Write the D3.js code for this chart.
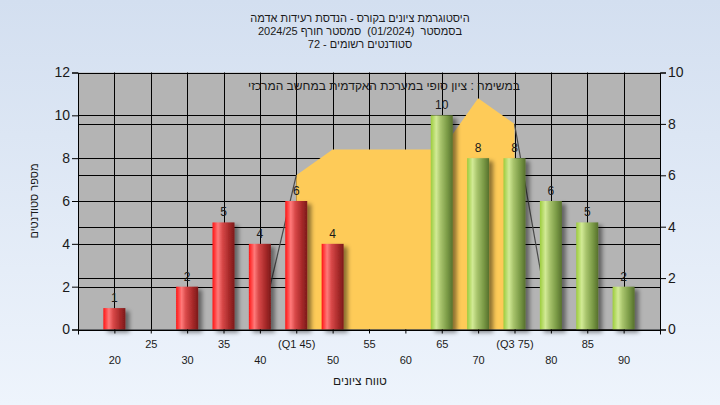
<!DOCTYPE html>
<html><head><meta charset="utf-8">
<script src="https://cdn.jsdelivr.net/npm/d3@7"></script>
<style>
html,body{margin:0;padding:0;}
body{width:720px;height:405px;overflow:hidden;}
text{font-family:"Liberation Sans",Arial,"DejaVu Sans",sans-serif;fill:#1a1a1a;white-space:pre;}
</style></head><body>
<svg id="chart" width="720" height="405"></svg>
<script>
// ---- data ----
const categories = [20,25,30,35,40,45,50,55,60,65,70,75,80,85,90];
const counts     = [1,0,2,5,4,6,4,0,0,10,8,8,6,5,2];
const tickLabels = ["20","25","30","35","40","(Q1 45)","50","55","60","65","70","(Q3 75)","80","85","90"];
const passFrom   = 60;               // bars from this grade are green
const curveCats  = [40,45,50,55,60,65,70,75,80,85,90];
const curveVals  = [0,6,7,7,7,7,9,8,0,0,0];
const q1 = 45, q3 = 75;
const leftTicks  = [0,2,4,6,8,10,12];
const rightTicks = [0,2,4,6,8,10];
const titleLines = ["היסטוגרמת ציונים בקורס - הנדסת רעידות אדמה",
                    "בסמסטר  (01/2024)  סמסטר חורף 2024/25",
                    "סטודנטים רשומים - 72"];
const subTitle = "במשימה : ציון סופי במערכת האקדמית במחשב המרכזי";
const xTitle = "טווח ציונים";
const yTitle = "מספר סטודנטים";

// ---- layout ----
const L = 78, R = 660, T = 72.5, B = 329.5;
const svg = d3.select("#chart");
const defs = svg.append("defs");

const bg = defs.append("linearGradient").attr("id","bg").attr("x1",0).attr("y1",0).attr("x2",0).attr("y2",1);
bg.append("stop").attr("offset","0%").attr("stop-color","#d3dff0");
bg.append("stop").attr("offset","100%").attr("stop-color","#eef4fc");

function barGrad(id, stops){
  const g = defs.append("linearGradient").attr("id",id).attr("x1",0).attr("y1",0).attr("x2",1).attr("y2",0);
  stops.forEach(s=>g.append("stop").attr("offset",s[0]).attr("stop-color",s[1]));
}
barGrad("gRed",[["0%","#ff1414"],["25%","#ff7a7a"],["45%","#d84848"],["75%","#a82a2a"],["100%","#7c1a1a"]]);
barGrad("gGreen",[["0%","#9ccc3c"],["25%","#d2ea96"],["45%","#a8c46c"],["75%","#7a9a46"],["100%","#56702c"]]);

const sh = defs.append("filter").attr("id","shadow").attr("x","-30%").attr("y","-10%").attr("width","180%").attr("height","130%");
sh.append("feDropShadow").attr("dx",4).attr("dy",3).attr("stdDeviation",2)
  .attr("flood-color","#000").attr("flood-opacity",0.45);

svg.append("rect").attr("width",720).attr("height",405).attr("fill","url(#bg)");

const x  = d3.scaleLinear().domain([15,95]).range([L,R]);
const yL = d3.scaleLinear().domain([0,12]).range([B,T]);
const yR = d3.scaleLinear().domain([0,10]).range([B,T]);

// plot background
svg.append("rect").attr("x",L).attr("y",T).attr("width",R-L).attr("height",B-T).attr("fill","#b4b4b4");

// gridlines
const grid = svg.append("g").attr("stroke","#000").attr("stroke-width",1);
grid.selectAll(".hl").data(leftTicks).join("line")
  .attr("x1",L).attr("x2",R).attr("y1",d=>Math.round(yL(d))+0.5).attr("y2",d=>Math.round(yL(d))+0.5);
grid.selectAll(".hr").data(rightTicks).join("line")
  .attr("x1",L).attr("x2",R).attr("y1",d=>Math.round(yR(d))+0.5).attr("y2",d=>Math.round(yR(d))+0.5);
grid.selectAll(".v").data(categories).join("line")
  .attr("y1",T).attr("y2",B).attr("x1",d=>Math.round(x(d))+0.5).attr("x2",d=>Math.round(x(d))+0.5);

// distribution area (Q1..Q3 filled)
const pts = curveCats.map((c,i)=>({c, v:curveVals[i]}));
const inner = pts.filter(p=>p.c>=q1 && p.c<=q3);
svg.append("path").datum(inner)
  .attr("d", d3.area().x(p=>x(p.c)).y0(yR(0)).y1(p=>yR(p.v)))
  .attr("fill","#fecb58");
const lineGen = d3.line().x(p=>x(p.c)).y(p=>yR(p.v));
[pts.filter(p=>p.c<=q1), pts.filter(p=>p.c>=q3)].forEach(seg=>{
  svg.append("path").datum(seg).attr("d",lineGen)
    .attr("fill","none").attr("stroke","#4a4a4a").attr("stroke-width",1.2);
});

// subtitle inside plot
svg.append("text").attr("x",384).attr("y",90).attr("text-anchor","middle")
  .style("font-size","12px").text(subTitle);

// bars
const bw = 22;
const data = categories.map((c,i)=>({c, v:counts[i]}));
svg.append("g").attr("filter","url(#shadow)")
  .selectAll("rect").data(data.filter(d=>d.v>0)).join("rect")
  .attr("x",d=>x(d.c)-bw/2).attr("width",bw)
  .attr("y",d=>yL(d.v)).attr("height",d=>yL(0)-yL(d.v))
  .attr("fill",d=>d.c>=passFrom?"url(#gGreen)":"url(#gRed)");

svg.append("g").selectAll("text").data(data.filter(d=>d.v>0)).join("text")
  .attr("x",d=>x(d.c)).attr("y",d=>yL(d.v)-6).attr("text-anchor","middle")
  .style("font-size","12px").text(d=>d.v);

// axes
const axL = svg.append("g").attr("transform",`translate(${L},0)`)
  .call(d3.axisLeft(yL).tickValues(leftTicks).tickSize(6).tickPadding(2));
const axR = svg.append("g").attr("transform",`translate(${R},0)`)
  .call(d3.axisRight(yR).tickValues(rightTicks).tickSize(6).tickPadding(2));
[axL,axR].forEach(a=>{
  a.select(".domain").attr("stroke","#000");
  a.selectAll("line").attr("stroke","#000");
  a.selectAll("text").style("font-size","14px").attr("fill","#1a1a1a")
   .style("font-family",'"Liberation Sans",Arial,sans-serif');
});
const axB = svg.append("g").attr("transform",`translate(0,${B})`)
  .call(d3.axisBottom(x).tickValues(categories).tickSize(4).tickFormat((d,i)=>tickLabels[i]));
axB.select(".domain").attr("d",`M${L},0.5H${R}`).attr("stroke","#000");
axB.selectAll("line").attr("stroke","#000");
axB.selectAll("text").style("font-size","11px").attr("fill","#1a1a1a")
  .style("font-family",'"Liberation Sans",Arial,sans-serif')
  .attr("y",(d,i)=>i%2===1?11:27);
svg.append("line").attr("x1",L+0.5).attr("x2",L+0.5).attr("y1",B).attr("y2",B+5).attr("stroke","#000");
svg.append("line").attr("x1",R+0.5).attr("x2",R+0.5).attr("y1",B).attr("y2",B+5).attr("stroke","#000");

// titles
svg.append("g").selectAll("text").data(titleLines).join("text")
  .attr("x",360).attr("y",(d,i)=>22+i*13).attr("text-anchor","middle")
  .style("font-size","11px").text(d=>d);
svg.append("text").attr("x",360).attr("y",385).attr("text-anchor","middle")
  .style("font-size","12px").text(xTitle);
svg.append("text").attr("transform","translate(38,201) rotate(-90)").attr("text-anchor","middle")
  .style("font-size","11px").text(yTitle);
</script>
</body></html>
